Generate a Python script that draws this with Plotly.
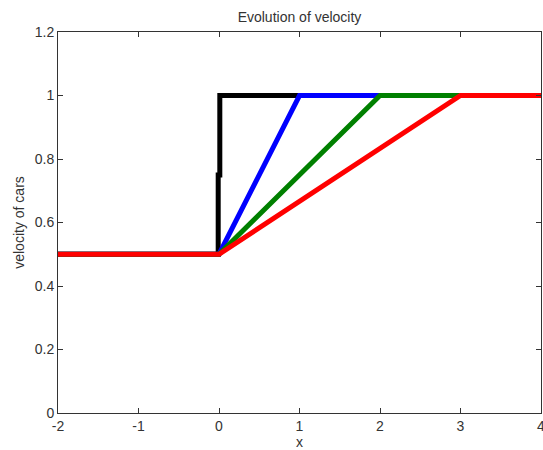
import plotly.graph_objects as go

# data
x_black = [-2, -0.01, -0.01, 0.01, 0.01, 1, 4]
v_black = [0.5, 0.5, 0.75, 0.75, 1, 1, 1]
x_blue = [-2, 0, 1, 4]
v_blue = [0.5, 0.5, 1, 1]
x_green = [-2, 0, 2, 4]
v_green = [0.5, 0.5, 1, 1]
x_red = [-2, 0, 3, 4]
v_red = [0.5, 0.5, 1, 1]

x_ticks = [-2, -1, 0, 1, 2, 3, 4]
x_tick_labels = ["-2", "-1", "0", "1", "2", "3", "4"]
y_ticks = [0, 0.2, 0.4, 0.6, 0.8, 1, 1.2]
y_tick_labels = ["0", "0.2", "0.4", "0.6", "0.8", "1", "1.2"]

series = [
    (x_black, v_black, "#000000"),
    (x_blue, v_blue, "#0000FF"),
    (x_green, v_green, "#008000"),
    (x_red, v_red, "#FF0000"),
]

fig = go.Figure()
for xs, ys, c in series:
    fig.add_trace(go.Scatter(x=xs, y=ys, mode="lines",
                             line=dict(color=c, width=5),
                             showlegend=False, hoverinfo="skip"))

font = dict(family="Liberation Sans, Arial, sans-serif", size=14, color="#333333")

axis_common = dict(
    showgrid=False, zeroline=False, showline=True, linecolor="#333333",
    linewidth=1, mirror="ticks", ticks="inside", ticklen=5,
    tickcolor="#333333", tickfont=font, automargin=False,
    ticklabeloverflow="allow",
)

fig.update_layout(
    width=543, height=450,
    margin=dict(l=58, r=2, t=32, b=37, autoexpand=False),
    paper_bgcolor="white", plot_bgcolor="white",
    title=dict(text="Evolution of velocity", x=0.5, xref="paper", xanchor="center",
               y=0.962, yanchor="middle", font=font),
    xaxis=dict(range=[-2, 4], tickvals=x_ticks, ticktext=x_tick_labels,
               title=dict(text="x", font=font, standoff=4), **axis_common),
    yaxis=dict(range=[0, 1.2], tickvals=y_ticks, ticktext=y_tick_labels,
               title=dict(text="velocity of cars", font=font, standoff=6),
               **axis_common),
)

fig.write_html(
    "out.html",
    config={"displayModeBar": False},
    post_script="document.body.style.margin='0';document.body.style.overflow='hidden';",
)
